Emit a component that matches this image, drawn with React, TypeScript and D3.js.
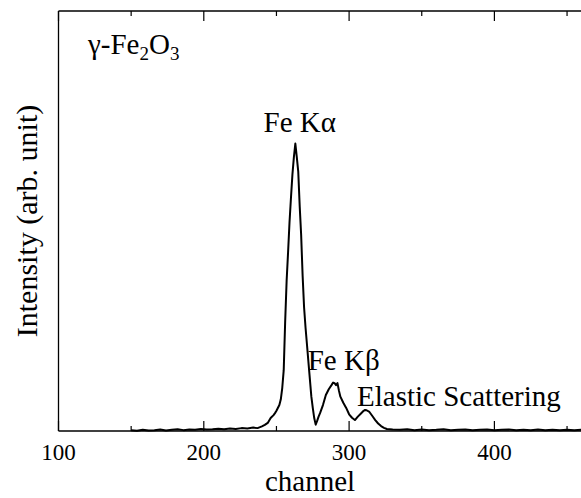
import React from "react";
import * as d3 from "d3";

// spectrum (channel, counts in arbitrary units)
const channels = [
  150, 154, 158, 162, 166, 170, 174, 178, 182, 186, 190, 194, 198, 202, 206, 210, 214, 218, 222, 226, 230, 234, 237, 240,
  242, 244, 246, 248, 249, 250, 252, 253, 254, 255, 256, 257, 258, 259, 260, 261, 262, 263, 264, 265, 266, 267, 268, 269,
  270, 271, 272, 273, 274, 275, 276, 277, 278, 279, 280, 282, 284, 286, 288, 289, 290, 291, 292, 293, 294, 296, 298, 300,
  302, 304, 305, 306, 308, 310, 311, 312, 314, 316, 318, 320, 322, 324, 326, 330, 335, 340, 345, 350, 355, 360, 365, 370,
  375, 380, 385, 390, 395, 400, 405, 410, 415, 420, 425, 430, 435, 440, 445, 450, 455, 460,
];
const counts = [
  3, 1, 4, 2, 3, 5, 2, 4, 6, 3, 5, 4, 7, 5, 6, 8, 6, 9, 7, 10, 9, 12, 10, 16,
  21, 28, 45, 55, 62, 70, 90, 110, 150, 211, 380, 520, 620, 725, 810, 890, 950, 997, 950, 900, 780, 680, 540, 430,
  360, 300, 240, 180, 120, 80, 45, 22, 35, 50, 62, 90, 125, 145, 160, 168, 166, 159, 166, 140, 119, 98, 80, 58,
  46, 38, 44, 50, 60, 70, 73, 72, 66, 52, 38, 26, 17, 11, 7, 5, 4, 6, 3, 5, 3, 4, 6, 3,
  4, 5, 3, 4, 5, 3, 4, 5, 3, 4, 3, 5, 3, 4, 3, 4, 3, 4,
];
const majorTicks = [100, 200, 300, 400];
const minorTicks = [150, 250, 350, 450];

// label anchor points in data units
const peakLabels = [
  { text: "Fe K\u03b1", ch: 266, value: 1037, anchor: "middle" },
  { text: "Fe K\u03b2", ch: 271.5, value: 211, anchor: "start" },
  { text: "Elastic Scattering", ch: 305.5, value: 86, anchor: "start" },
];

const W = 581;
const H = 498;
const margin = { top: 11, left: 58.5, bottom: 67 };

export default function App() {
  const x = d3.scaleLinear().domain([100, 460]).range([margin.left, margin.left + 360 * 1.453]);
  const y = d3
    .scaleLinear()
    .domain([0, 1000])
    .range([H - margin.bottom, 142.7]);
  const yTop = margin.top;
  const yBot = H - margin.bottom;

  const line = d3
    .line<number>()
    .x((d, i) => x(channels[i]))
    .y((d) => y(d));

  const font = '"Times New Roman", "Liberation Serif", serif';

  return (
    <svg width={W} height={H} style={{ position: "absolute", left: 0, top: 0, background: "#fff", fontFamily: font }}>
      <rect width={W} height={H} fill="#fff" />
      {/* frame */}
      <line x1={margin.left} x2={W} y1={yTop} y2={yTop} stroke="#000" strokeWidth={1.3} />
      <line x1={margin.left} x2={W} y1={yBot} y2={yBot} stroke="#000" strokeWidth={1.3} />
      <line x1={margin.left} x2={margin.left} y1={yTop} y2={yBot} stroke="#000" strokeWidth={1.3} />

      {/* inward ticks */}
      {majorTicks.map((t) => (
        <g key={"M" + t}>
          <line x1={x(t)} x2={x(t)} y1={yBot} y2={yBot - 10} stroke="#000" strokeWidth={1.2} />
          <line x1={x(t)} x2={x(t)} y1={yTop} y2={yTop + 10} stroke="#000" strokeWidth={1.2} />
          <text x={x(t)} y={yBot + 29} textAnchor="middle" fontSize={23}>
            {t}
          </text>
        </g>
      ))}
      {minorTicks.map((t) => (
        <g key={"m" + t}>
          <line x1={x(t)} x2={x(t)} y1={yBot} y2={yBot - 5} stroke="#000" strokeWidth={1.2} />
          <line x1={x(t)} x2={x(t)} y1={yTop} y2={yTop + 5} stroke="#000" strokeWidth={1.2} />
        </g>
      ))}

      <path d={line(counts) || ""} fill="none" stroke="#000" strokeWidth={2} strokeLinejoin="round" />

      {peakLabels.map((p) => (
        <text key={p.text} x={x(p.ch)} y={y(p.value)} textAnchor={p.anchor} fontSize={29}>
          {p.text}
        </text>
      ))}

      <text x={88} y={54} fontSize={29}>
        {"\u03b3-Fe"}
        <tspan fontSize={19} dy={6}>2</tspan>
        <tspan dy={-6}>O</tspan>
        <tspan fontSize={19} dy={6}>3</tspan>
      </text>

      <text x={310} y={491} textAnchor="middle" fontSize={29}>
        channel
      </text>
      <text transform={`translate(37,221) rotate(-90)`} textAnchor="middle" fontSize={30}>
        Intensity (arb. unit)
      </text>
    </svg>
  );
}
